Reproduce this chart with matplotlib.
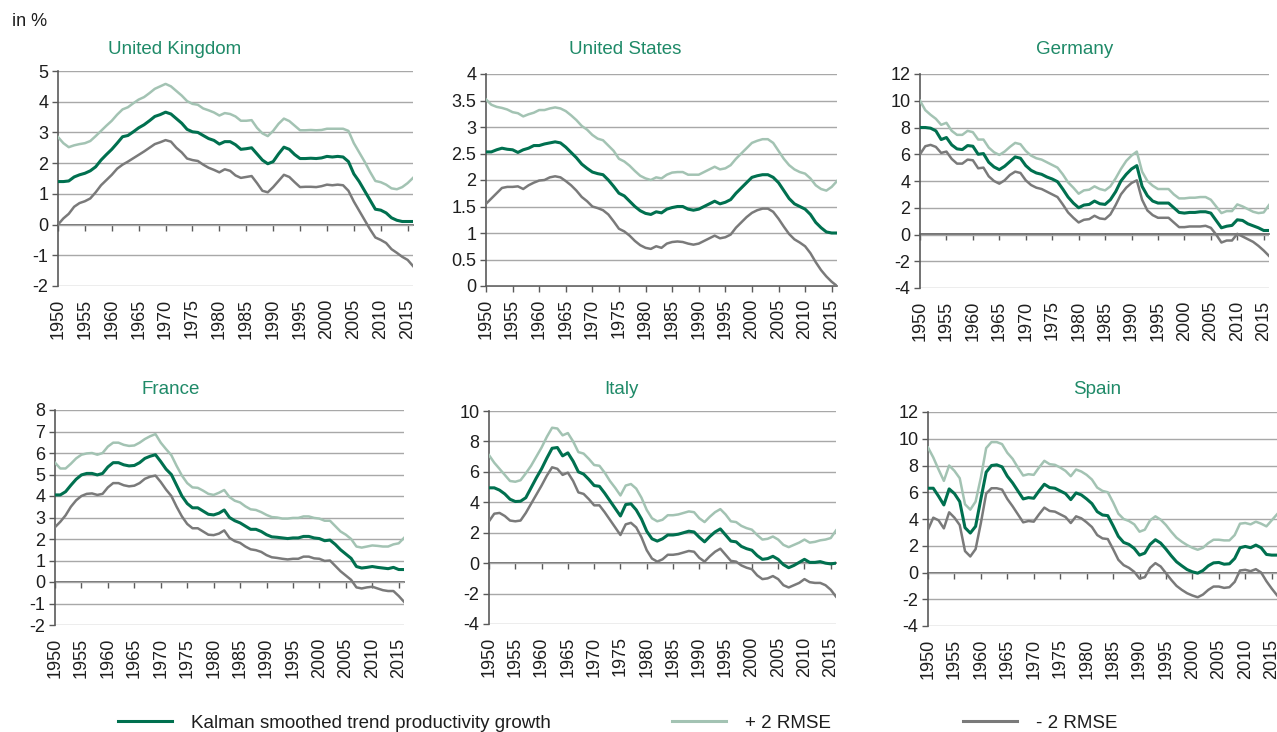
import matplotlib
matplotlib.use("Agg")
import matplotlib.pyplot as plt
from matplotlib.lines import Line2D

plt.rcParams["font.family"] = ["Liberation Sans", "DejaVu Sans"]

# ---- data, % per year, 1950-2016 ----
YEARS = list(range(1950, 2017))
TICK_YEARS = list(range(1950, 2016, 5))

UK_TREND = [1.40, 1.40, 1.42, 1.55, 1.62, 1.67, 1.75, 1.88, 2.10, 2.28,
            2.45, 2.65, 2.86, 2.90, 3.02, 3.15, 3.25, 3.38, 3.52, 3.58,
            3.66, 3.60, 3.45, 3.30, 3.10, 3.02, 3.00, 2.90, 2.80, 2.74,
            2.62, 2.70, 2.70, 2.60, 2.45, 2.47, 2.50, 2.30, 2.10, 1.98,
            2.05, 2.30, 2.52, 2.45, 2.28, 2.15, 2.15, 2.16, 2.15, 2.17,
            2.22, 2.20, 2.22, 2.20, 2.05, 1.65, 1.40, 1.10, 0.80, 0.50,
            0.47, 0.38, 0.22, 0.14, 0.10, 0.10, 0.10]
UK_UPPER = [2.85, 2.65, 2.52, 2.58, 2.62, 2.65, 2.72, 2.88, 3.05, 3.22,
            3.38, 3.58, 3.75, 3.82, 3.95, 4.07, 4.15, 4.28, 4.42, 4.50,
            4.58, 4.50, 4.35, 4.20, 4.02, 3.93, 3.90, 3.78, 3.72, 3.65,
            3.55, 3.63, 3.60, 3.52, 3.38, 3.38, 3.40, 3.15, 2.97, 2.88,
            3.05, 3.28, 3.45, 3.37, 3.22, 3.07, 3.07, 3.08, 3.07, 3.08,
            3.12, 3.12, 3.12, 3.12, 3.05, 2.65, 2.35, 2.05, 1.72, 1.42,
            1.38, 1.30, 1.18, 1.15, 1.22, 1.35, 1.52]
UK_LOWER = [0.00, 0.20, 0.35, 0.58, 0.70, 0.76, 0.85, 1.05, 1.28, 1.45,
            1.62, 1.82, 1.95, 2.05, 2.16, 2.27, 2.38, 2.50, 2.62, 2.68,
            2.75, 2.70, 2.50, 2.35, 2.15, 2.10, 2.07, 1.95, 1.85, 1.78,
            1.70, 1.80, 1.75, 1.60, 1.52, 1.55, 1.58, 1.35, 1.10, 1.05,
            1.22, 1.42, 1.62, 1.55, 1.38, 1.22, 1.23, 1.23, 1.22, 1.25,
            1.30, 1.28, 1.30, 1.28, 1.10, 0.75, 0.45, 0.15, -0.15, -0.42,
            -0.50, -0.60, -0.80, -0.92, -1.05, -1.15, -1.35]

US_TREND = [2.53, 2.53, 2.57, 2.60, 2.58, 2.57, 2.52, 2.57, 2.60, 2.65,
            2.65, 2.68, 2.70, 2.72, 2.70, 2.62, 2.52, 2.42, 2.30, 2.22,
            2.15, 2.12, 2.10, 2.00, 1.88, 1.75, 1.70, 1.60, 1.50, 1.42,
            1.37, 1.35, 1.40, 1.38, 1.45, 1.48, 1.50, 1.50, 1.45, 1.43,
            1.45, 1.50, 1.55, 1.60, 1.55, 1.58, 1.63, 1.75, 1.85, 1.95,
            2.05, 2.08, 2.10, 2.10, 2.05, 1.95, 1.80, 1.65, 1.55, 1.50,
            1.45, 1.35, 1.20, 1.10, 1.02, 1.00, 1.00]
US_UPPER = [3.52, 3.42, 3.38, 3.36, 3.33, 3.28, 3.26, 3.20, 3.24, 3.27,
            3.32, 3.32, 3.35, 3.37, 3.35, 3.30, 3.22, 3.13, 3.02, 2.95,
            2.85, 2.78, 2.75, 2.65, 2.55, 2.40, 2.35, 2.27, 2.17, 2.08,
            2.03, 2.00, 2.05, 2.03, 2.10, 2.14, 2.15, 2.15, 2.10, 2.10,
            2.10, 2.15, 2.20, 2.25, 2.20, 2.22, 2.28, 2.40, 2.50, 2.60,
            2.70, 2.74, 2.77, 2.77, 2.70, 2.55, 2.40, 2.28, 2.20, 2.15,
            2.12, 2.03, 1.90, 1.83, 1.80, 1.87, 1.98]
US_LOWER = [1.55, 1.65, 1.75, 1.85, 1.87, 1.87, 1.88, 1.83, 1.90, 1.95,
            1.99, 2.00, 2.05, 2.07, 2.05, 1.98, 1.90, 1.80, 1.68, 1.60,
            1.50, 1.47, 1.43, 1.35, 1.22, 1.08, 1.03, 0.95, 0.85, 0.77,
            0.72, 0.70, 0.75, 0.72, 0.80, 0.83, 0.84, 0.83, 0.80, 0.78,
            0.80, 0.85, 0.90, 0.95, 0.90, 0.92, 0.97, 1.10, 1.20, 1.30,
            1.38, 1.43, 1.46, 1.46, 1.40, 1.27, 1.12, 0.98, 0.88, 0.82,
            0.75, 0.62, 0.45, 0.30, 0.18, 0.08, 0.00]

DE_TREND = [8.0, 8.0, 7.95, 7.75, 7.1, 7.25, 6.7, 6.4, 6.35, 6.65,
            6.6, 6.0, 6.05, 5.4, 5.05, 4.85, 5.1, 5.45, 5.8, 5.7,
            5.15, 4.8, 4.6, 4.5, 4.3, 4.15, 3.95, 3.4, 2.8, 2.35,
            2.0, 2.2, 2.25, 2.5, 2.3, 2.25, 2.6, 3.2, 4.0, 4.5,
            4.9, 5.15, 3.6, 2.9, 2.5, 2.35, 2.35, 2.35, 2.0, 1.65,
            1.6, 1.65, 1.65, 1.7, 1.7, 1.6, 1.05, 0.5, 0.62, 0.68,
            1.1, 1.05, 0.8, 0.65, 0.5, 0.3, 0.3]
DE_UPPER = [10.0, 9.3, 8.95, 8.65, 8.2, 8.35, 7.75, 7.45, 7.45, 7.75,
            7.65, 7.1, 7.1, 6.5, 6.15, 5.95, 6.2, 6.55, 6.85, 6.75,
            6.25, 5.9, 5.7, 5.6, 5.4, 5.2, 5.0, 4.5, 3.9, 3.5,
            3.05, 3.3, 3.35, 3.6, 3.4, 3.3, 3.6, 4.2, 4.9, 5.5,
            5.9, 6.2, 4.7, 4.0, 3.65, 3.4, 3.4, 3.4, 3.0, 2.7,
            2.7, 2.75, 2.75, 2.8, 2.8, 2.6, 2.1, 1.6, 1.75, 1.75,
            2.25, 2.1, 1.9, 1.7, 1.6, 1.65, 2.2]
DE_LOWER = [6.0, 6.6, 6.7, 6.55, 6.1, 6.2, 5.65, 5.3, 5.3, 5.6,
            5.55, 4.95, 5.0, 4.35, 4.0, 3.8, 4.05, 4.45, 4.7, 4.6,
            4.05, 3.7, 3.5, 3.4, 3.2, 3.0, 2.8, 2.25, 1.65, 1.25,
            0.9, 1.1, 1.15, 1.4, 1.2, 1.15, 1.5, 2.2, 3.0, 3.5,
            3.85, 4.05, 2.6, 1.8, 1.45, 1.25, 1.25, 1.25, 0.9, 0.55,
            0.55, 0.6, 0.6, 0.6, 0.65, 0.5, 0.0, -0.6, -0.45, -0.45,
            0.05, -0.15, -0.35, -0.55, -0.85, -1.2, -1.6]

FR_TREND = [4.05, 4.05, 4.2, 4.5, 4.78, 4.98, 5.05, 5.05, 4.98, 5.05,
            5.35, 5.55, 5.55, 5.45, 5.4, 5.42, 5.55, 5.75, 5.85, 5.92,
            5.6, 5.25, 5.0, 4.5, 4.0, 3.65, 3.45, 3.45, 3.3, 3.15,
            3.12, 3.2, 3.35, 3.0, 2.85, 2.75, 2.6, 2.45, 2.45, 2.35,
            2.2, 2.1, 2.08, 2.05, 2.02, 2.05, 2.05, 2.12, 2.12, 2.05,
            2.02, 1.92, 1.95, 1.75, 1.5, 1.3, 1.1, 0.72, 0.65, 0.68,
            0.72, 0.68, 0.65, 0.62, 0.68, 0.58, 0.58]
FR_UPPER = [5.55, 5.28, 5.28, 5.5, 5.75, 5.92, 5.98, 6.0, 5.92, 6.0,
            6.3, 6.48, 6.48, 6.38, 6.33, 6.35, 6.48, 6.65, 6.78, 6.88,
            6.48, 6.18, 5.9, 5.4, 4.95, 4.6, 4.4, 4.38, 4.25, 4.1,
            4.05, 4.15, 4.28, 3.95, 3.78, 3.7, 3.52, 3.38, 3.35, 3.25,
            3.12, 3.02, 3.0, 2.95, 2.95, 2.98, 2.98, 3.05, 3.05, 2.98,
            2.95, 2.85, 2.85, 2.6, 2.35, 2.2, 2.0, 1.65, 1.6, 1.65,
            1.7, 1.68, 1.65, 1.65, 1.75, 1.8, 2.05]
FR_LOWER = [2.55, 2.8, 3.1, 3.5, 3.8, 4.0, 4.1, 4.12, 4.05, 4.1,
            4.4, 4.6, 4.6, 4.5, 4.45, 4.48, 4.6, 4.8, 4.9, 4.95,
            4.65, 4.3, 4.0, 3.5, 3.05, 2.7, 2.5, 2.5, 2.35, 2.2,
            2.18, 2.25, 2.4, 2.05, 1.9, 1.82, 1.65, 1.52, 1.48, 1.4,
            1.25, 1.15, 1.12, 1.08, 1.05, 1.08, 1.08, 1.18, 1.18, 1.1,
            1.08, 0.98, 1.0, 0.75, 0.5, 0.3, 0.1, -0.25, -0.3, -0.25,
            -0.22, -0.3, -0.38, -0.42, -0.42, -0.65, -0.92]

IT_TREND = [4.95, 4.95, 4.8, 4.55, 4.2, 4.05, 4.07, 4.3, 4.95, 5.6,
            6.2, 6.9, 7.55, 7.6, 7.05, 7.25, 6.7, 6.0, 5.85, 5.5,
            5.1, 5.05, 4.6, 4.1, 3.6, 3.1, 3.85, 3.9, 3.5, 2.9,
            2.1, 1.6, 1.45, 1.6, 1.85, 1.85, 1.9, 2.0, 2.1, 2.05,
            1.7, 1.4, 1.75, 2.05, 2.25, 1.85, 1.45, 1.4, 1.1, 0.95,
            0.85, 0.5, 0.25, 0.3, 0.45, 0.25, -0.1, -0.3, -0.15, 0.05,
            0.25, 0.05, 0.05, 0.1, 0.0, -0.05, 0.0]
IT_UPPER = [7.1, 6.6, 6.2, 5.8, 5.4, 5.35, 5.45, 5.9, 6.4, 7.0,
            7.6, 8.3, 8.9, 8.85, 8.4, 8.55, 8.0, 7.3, 7.2, 6.85,
            6.45, 6.4, 5.95, 5.4, 4.95, 4.45, 5.1, 5.2, 4.9, 4.3,
            3.5, 2.95, 2.75, 2.85, 3.15, 3.15, 3.2, 3.3, 3.4, 3.35,
            2.95, 2.7, 3.05, 3.35, 3.55, 3.2, 2.75, 2.7, 2.45, 2.3,
            2.2, 1.85, 1.55, 1.6, 1.75, 1.55, 1.2, 1.05, 1.2, 1.35,
            1.55, 1.35, 1.4, 1.5, 1.55, 1.65, 2.15]
IT_LOWER = [2.75, 3.25, 3.3, 3.1, 2.8, 2.75, 2.8, 3.3, 3.9, 4.5,
            5.1, 5.75, 6.3, 6.2, 5.8, 5.95, 5.4, 4.65, 4.55, 4.2,
            3.8, 3.8, 3.35, 2.85, 2.35, 1.85, 2.55, 2.65, 2.35, 1.7,
            0.85, 0.3, 0.1, 0.25, 0.55, 0.55, 0.6, 0.7, 0.8, 0.75,
            0.35, 0.1, 0.45, 0.75, 0.95, 0.55, 0.15, 0.1, -0.15, -0.3,
            -0.4, -0.8, -1.05, -1.0, -0.85, -1.05, -1.45, -1.6, -1.45, -1.3,
            -1.05, -1.25, -1.3, -1.3, -1.45, -1.75, -2.2]

ES_TREND = [6.3, 6.3, 5.7, 5.05, 6.25, 5.9, 5.3, 3.35, 2.95, 3.45,
            5.5, 7.5, 8.0, 8.05, 7.9, 7.2, 6.7, 6.1, 5.5, 5.6,
            5.55, 6.1, 6.6, 6.35, 6.3, 6.1, 5.9, 5.45, 5.95, 5.8,
            5.5, 5.15, 4.55, 4.3, 4.25, 3.5, 2.7, 2.25, 2.1, 1.8,
            1.3, 1.45, 2.1, 2.45, 2.2, 1.75, 1.25, 0.8, 0.5, 0.22,
            0.05, -0.05, 0.15, 0.5, 0.72, 0.75, 0.62, 0.65, 1.05, 1.85,
            1.95, 1.85, 2.05, 1.85, 1.35, 1.3, 1.3]
ES_UPPER = [9.35, 8.6, 7.7, 6.85, 8.0, 7.6, 7.05, 5.1, 4.7, 5.3,
            7.1, 9.3, 9.75, 9.75, 9.6, 8.95, 8.5, 7.85, 7.25, 7.35,
            7.3, 7.85, 8.35, 8.1, 8.05, 7.85, 7.6, 7.2, 7.7, 7.55,
            7.3, 6.95, 6.35, 6.1, 6.0, 5.25, 4.4, 4.0, 3.85, 3.6,
            3.05, 3.2, 3.9, 4.2, 3.95, 3.55, 3.05, 2.6, 2.3, 2.05,
            1.85, 1.7, 1.85, 2.2, 2.45, 2.45, 2.4, 2.4, 2.8, 3.65,
            3.7, 3.6, 3.8, 3.65, 3.45, 3.9, 4.35]
ES_LOWER = [3.2, 4.1, 3.9, 3.3, 4.5, 4.1, 3.55, 1.6, 1.2, 1.75,
            3.7, 5.9, 6.3, 6.3, 6.2, 5.5, 4.95, 4.35, 3.75, 3.85,
            3.8, 4.35, 4.85, 4.6, 4.55, 4.35, 4.15, 3.7, 4.2, 4.05,
            3.75, 3.4, 2.8, 2.55, 2.5, 1.75, 0.95, 0.55, 0.35, 0.05,
            -0.45, -0.35, 0.35, 0.7, 0.45, -0.05, -0.55, -1.0, -1.3, -1.55,
            -1.72, -1.85, -1.65, -1.3, -1.05, -1.05, -1.15, -1.1, -0.7, 0.15,
            0.2, 0.1, 0.25, 0.0, -0.65, -1.2, -1.7]

COUNTRIES = ["United Kingdom", "United States", "Germany", "France", "Italy", "Spain"]
SERIES = {
    "United Kingdom": (UK_TREND, UK_UPPER, UK_LOWER),
    "United States": (US_TREND, US_UPPER, US_LOWER),
    "Germany": (DE_TREND, DE_UPPER, DE_LOWER),
    "France": (FR_TREND, FR_UPPER, FR_LOWER),
    "Italy": (IT_TREND, IT_UPPER, IT_LOWER),
    "Spain": (ES_TREND, ES_UPPER, ES_LOWER),
}
Y_RANGE = {
    "United Kingdom": (-2, 5, 1),
    "United States": (0, 4, 0.5),
    "Germany": (-4, 12, 2),
    "France": (-2, 8, 1),
    "Italy": (-4, 10, 2),
    "Spain": (-4, 12, 2),
}
LABELS = ["Kalman smoothed trend productivity growth", "+ 2 RMSE", "- 2 RMSE"]

# ---- layout (pixels in a 1277x732 canvas) ----
W, H = 1277, 732
AX_BOX = {  # left, top, right, bottom
    "United Kingdom": (58, 71, 413, 286),
    "United States": (486, 74, 837, 286),
    "Germany": (920, 74, 1269, 288),
    "France": (55, 410, 404, 625),
    "Italy": (489, 411, 836, 624),
    "Spain": (928, 412, 1277, 626),
}
TITLE_POS = {
    "United Kingdom": (175, 49), "United States": (625, 49), "Germany": (1075, 49),
    "France": (171, 389), "Italy": (621, 389), "Spain": (1097, 389),
}
LEGEND_X = [118, 672, 963]
LEGEND_Y = 723

GREEN = "#00704f"
LIGHT = "#a3c3b3"
GREY = "#7a7a7a"
TITLE_C = "#1f8a68"
AXIS_C = "#5a5a5a"
GRID_C = "#a8a8a8"
TEXT_C = "#1e1e1e"
FS = 13


def px_rect(box):
    x0, y0, x1, y1 = box
    return [x0 / W, 1 - y1 / H, (x1 - x0) / W, (y1 - y0) / H]


def draw_panel(fig, name):
    trend, upper, lower = SERIES[name]
    lo, hi, step = Y_RANGE[name]
    ax = fig.add_axes(px_rect(AX_BOX[name]))

    ax.plot(YEARS, upper, color=LIGHT, lw=1.8, zorder=3)
    ax.plot(YEARS, lower, color=GREY, lw=1.8, zorder=3)
    ax.plot(YEARS, trend, color=GREEN, lw=2.2, zorder=4)

    ax.set_xlim(1950, 2016)
    ax.set_ylim(lo, hi)
    n = int(round((hi - lo) / step))
    yticks = [lo + i * step for i in range(n + 1)]
    ax.set_yticks(yticks)
    ax.set_yticklabels([f"{v:g}" for v in yticks])
    ax.set_xticks(TICK_YEARS)
    ax.set_xticklabels([str(y) for y in TICK_YEARS], rotation=90)

    ax.grid(axis="y", color=GRID_C, lw=1.0)
    ax.set_axisbelow(True)
    for side in ("top", "right", "bottom"):
        ax.spines[side].set_visible(False)
    ax.spines["left"].set_color(AXIS_C)
    ax.spines["left"].set_linewidth(1.2)
    ax.tick_params(axis="y", length=4, width=1, color=AXIS_C, pad=3,
                   labelsize=FS, labelcolor=TEXT_C)
    ax.tick_params(axis="x", length=0, pad=9, labelsize=FS, labelcolor=TEXT_C)

    # horizontal axis line at zero with tick marks
    frac = (0 - lo) / (hi - lo)
    sec = ax.secondary_xaxis(frac)
    sec.set_xticks(TICK_YEARS)
    sec.tick_params(axis="x", direction="out", length=4, width=1, color=AXIS_C,
                    labelbottom=False, labeltop=False)
    for side in ("top", "bottom"):
        sec.spines[side].set_color(AXIS_C)
        sec.spines[side].set_linewidth(1.2)

    tx, ty = TITLE_POS[name]
    fig.text(tx / W, 1 - ty / H, name, ha="center", va="center",
             fontsize=13.5, color=TITLE_C)


def main():
    fig = plt.figure(figsize=(W / 100, H / 100), dpi=100)

    for name in COUNTRIES:
        draw_panel(fig, name)

    fig.text(12 / W, 1 - 21 / H, "in %", ha="left", va="center",
             fontsize=FS, color=TEXT_C)

    handles = [Line2D([], [], color=GREEN, lw=2.2),
               Line2D([], [], color=LIGHT, lw=2.2),
               Line2D([], [], color=GREY, lw=2.2)]
    for h, label, x in zip(handles, LABELS, LEGEND_X):
        fig.legend(handles=[h], labels=[label], loc="center left",
                   bbox_to_anchor=(x / W, 1 - LEGEND_Y / H), frameon=False,
                   handlelength=2.9, handletextpad=1.0, borderpad=0,
                   borderaxespad=0, fontsize=13.5, labelcolor=TEXT_C)

    fig.savefig("out.png", dpi=100)


if __name__ == "__main__":
    main()
